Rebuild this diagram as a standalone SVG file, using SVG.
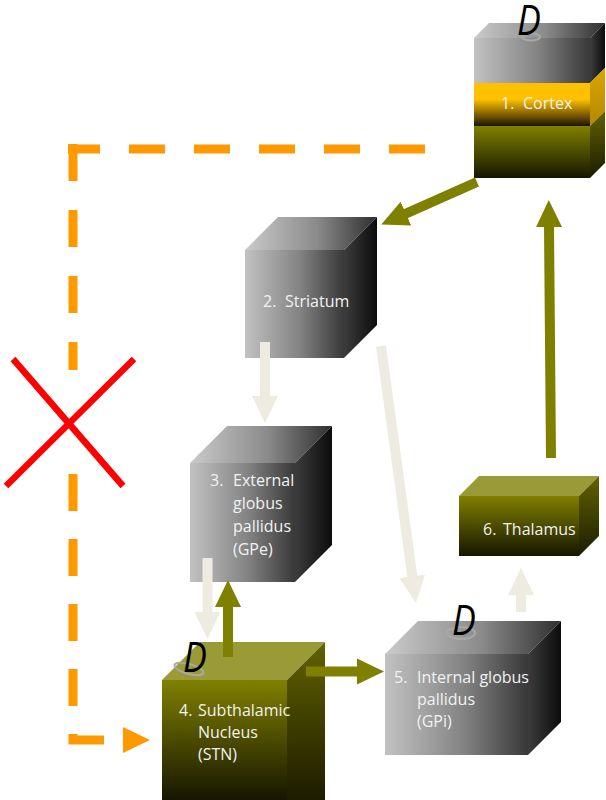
<svg xmlns="http://www.w3.org/2000/svg" width="606" height="800" viewBox="0 0 606 800">
  <defs>
    <!-- face shading -->
    <linearGradient id="grayFront" x1="0" y1="0" x2="1" y2="0">
      <stop offset="0" stop-color="#c2c2c2"/>
      <stop offset="0.55" stop-color="#838383"/>
      <stop offset="1" stop-color="#383838"/>
    </linearGradient>
    <linearGradient id="grayTop" x1="0" y1="0" x2="1" y2="0">
      <stop offset="0" stop-color="#cacaca"/>
      <stop offset="0.55" stop-color="#8a8a8a"/>
      <stop offset="1" stop-color="#2e2e2e"/>
    </linearGradient>
    <linearGradient id="graySide" x1="0" y1="0" x2="1" y2="0">
      <stop offset="0" stop-color="#3c3c3c"/>
      <stop offset="1" stop-color="#0c0c0c"/>
    </linearGradient>
    <linearGradient id="oliveFront" x1="0" y1="0" x2="0" y2="1">
      <stop offset="0" stop-color="#808000"/>
      <stop offset="1" stop-color="#161600"/>
    </linearGradient>
    <linearGradient id="oliveSide" x1="0" y1="0" x2="0" y2="1">
      <stop offset="0" stop-color="#626200"/>
      <stop offset="1" stop-color="#1c1c00"/>
    </linearGradient>
    <linearGradient id="orangeFront" x1="0" y1="0" x2="0" y2="1">
      <stop offset="0" stop-color="#ffc000"/>
      <stop offset="0.38" stop-color="#ffc000"/>
      <stop offset="1" stop-color="#1c1500"/>
    </linearGradient>
    <linearGradient id="orangeSide" x1="0" y1="0" x2="0" y2="1">
      <stop offset="0" stop-color="#dca500"/>
      <stop offset="1" stop-color="#b58800"/>
    </linearGradient>

    <marker id="headOlive" markerUnits="userSpaceOnUse" viewBox="0 -14 28 28" markerWidth="28" markerHeight="28" refX="1" refY="0" orient="auto">
      <path d="M0,-13 L27,0 L0,13 Z" fill="#808000"/>
    </marker>
    <marker id="headTan" markerUnits="userSpaceOnUse" viewBox="0 -14 28 28" markerWidth="28" markerHeight="28" refX="1" refY="0" orient="auto">
      <path d="M0,-13 L27,0 L0,13 Z" fill="#eeece1"/>
    </marker>

    <style>
      .label { font-family: "Open Sans", "Noto Sans", "Liberation Sans", sans-serif; font-size: 16px; fill: #f2f2f2; }
      .dop { font-family: "Open Sans", "Liberation Sans", sans-serif; font-style: italic; font-size: 42px; fill: #000000; }
      .ring { fill: none; stroke: #a8a8a8; stroke-width: 2; }
      .olive { stroke: #808000; stroke-width: 10; fill: none; marker-end: url(#headOlive); }
      .tan { stroke: #eeece1; stroke-width: 10; fill: none; marker-end: url(#headTan); }
      .dash { stroke: #ff9900; stroke-width: 9; fill: none; }
    </style>
  </defs>

  <rect width="606" height="800" fill="#ffffff"/>

  <!-- 1. Cortex: three stacked layers -->
  <g id="cortex">
    <polygon points="474,38 489,23 605,23 590,38" fill="url(#grayTop)"/>
    <rect x="474" y="38" width="116" height="45" fill="url(#grayFront)"/>
    <polygon points="590,38 605,23 605,68 590,83" fill="url(#graySide)"/>
    <rect x="474" y="83" width="116" height="43" fill="url(#orangeFront)"/>
    <polygon points="590,83 605,68 605,111 590,126" fill="url(#orangeSide)"/>
    <rect x="474" y="126" width="116" height="52" fill="url(#oliveFront)"/>
    <polygon points="590,126 605,111 605,163 590,178" fill="url(#oliveSide)"/>
    <text class="label" x="501" y="109">1.</text>
    <text class="label" x="523" y="109">Cortex</text>
    <ellipse class="ring" cx="531" cy="37" rx="9" ry="3.5"/>
    <text class="dop" transform="translate(517,35) scale(0.85,1)">D</text>
  </g>

  <!-- 2. Striatum -->
  <g id="striatum">
    <polygon points="245,250 278,217 377,217 344,250" fill="url(#grayTop)"/>
    <rect x="245" y="250" width="99" height="108" fill="url(#grayFront)"/>
    <polygon points="344,250 377,217 377,325 344,358" fill="url(#graySide)"/>
    <text class="label" x="263" y="307">2.</text>
    <text class="label" x="285" y="307">Striatum</text>
  </g>

  <!-- 3. External globus pallidus -->
  <g id="gpe">
    <polygon points="190,463 227,426 332,426 295,463" fill="url(#grayTop)"/>
    <rect x="190" y="463" width="105" height="119" fill="url(#grayFront)"/>
    <polygon points="295,463 332,426 332,545 295,582" fill="url(#graySide)"/>
    <text class="label" x="210" y="486">3.</text>
    <text class="label" x="233" y="486">External</text>
    <text class="label" x="233" y="509">globus</text>
    <text class="label" x="233" y="532">pallidus</text>
    <text class="label" x="233" y="555">(GPe)</text>
  </g>

  <!-- 4. Subthalamic nucleus -->
  <g id="stn">
    <polygon points="162,680 200,642 325,642 287,680" fill="#9a9a36"/>
    <rect x="162" y="680" width="125" height="120" fill="url(#oliveFront)"/>
    <polygon points="287,680 325,642 325,800 287,800" fill="url(#oliveSide)"/>
    <text class="label" x="179" y="716">4.</text>
    <text class="label" x="198" y="716">Subthalamic</text>
    <text class="label" x="198" y="738">Nucleus</text>
    <text class="label" x="198" y="760">(STN)</text>
  </g>

  <!-- 5. Internal globus pallidus -->
  <g id="gpi">
    <polygon points="385,654 418,621 561,621 528,654" fill="url(#grayTop)"/>
    <rect x="385" y="654" width="143" height="101" fill="url(#grayFront)"/>
    <polygon points="528,654 561,621 561,722 528,755" fill="url(#graySide)"/>
    <text class="label" x="394" y="683">5.</text>
    <text class="label" x="417" y="683">Internal globus</text>
    <text class="label" x="417" y="705">pallidus</text>
    <text class="label" x="417" y="727">(GPi)</text>
  </g>

  <!-- 6. Thalamus -->
  <g id="thalamus">
    <polygon points="459,496 479,476 599,476 579,496" fill="#9a9a38"/>
    <rect x="459" y="496" width="120" height="60" fill="url(#oliveFront)"/>
    <polygon points="579,496 599,476 599,536 579,556" fill="url(#oliveSide)"/>
    <text class="label" x="483" y="535">6.</text>
    <text class="label" x="503" y="535">Thalamus</text>
  </g>

  <!-- pathways -->
  <g id="connectors">
    <line class="olive" x1="477" y1="182" x2="405" y2="214"/>
    <line class="olive" x1="551" y1="458" x2="549" y2="226"/>
    <line class="tan" x1="381" y1="346" x2="412.4" y2="577.2"/>
    <line class="tan" x1="265" y1="342" x2="265" y2="397"/>
    <line class="tan" x1="207.5" y1="558" x2="207.5" y2="613"/>
    <line class="olive" x1="228" y1="657" x2="228" y2="606"/>
    <line class="olive" x1="306" y1="671.5" x2="358" y2="671.5"/>
    <line class="tan" x1="521" y1="612" x2="521" y2="594"/>

    <!-- dashed cortex-to-STN route -->
    <path class="dash" d="M425,149 H68" stroke-dasharray="36 29"/>
    <path class="dash" d="M73,144 V370" stroke-dasharray="37 29"/>
    <path class="dash" d="M73,474 V740 H104" stroke-dasharray="37 28"/>
    <polygon points="123,727 150,740 123,753" fill="#ff9900"/>
  </g>

  <!-- blocked route -->
  <g id="blocked" stroke="#ff0000" stroke-width="6.5">
    <line x1="13" y1="359" x2="123" y2="486"/>
    <line x1="134" y1="359" x2="6" y2="486"/>
  </g>

  <!-- dopamine markers drawn over the connectors -->
  <g id="dopamine-stn">
    <ellipse class="ring" cx="189" cy="669" rx="15" ry="5" transform="rotate(15 189 669)"/>
    <text class="dop" transform="translate(183,672) scale(0.85,1)">D</text>
  </g>
  <g id="dopamine-gpi">
    <ellipse class="ring" cx="461" cy="633" rx="14" ry="6"/>
    <text class="dop" transform="translate(452,635) scale(0.85,1)">D</text>
  </g>
</svg>
